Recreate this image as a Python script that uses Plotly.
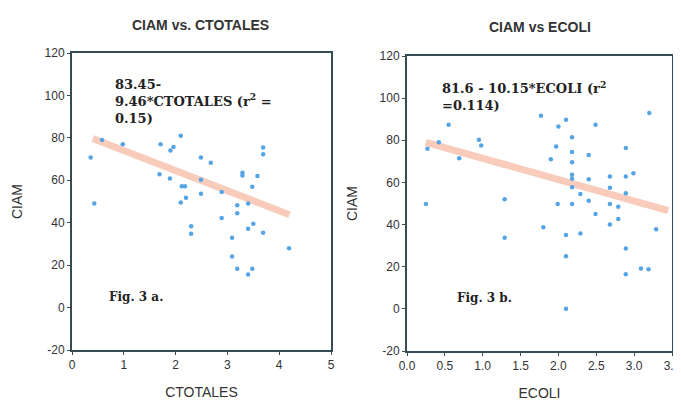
import plotly.graph_objects as go

# ---- data: left panel (CIAM vs CTOTALES)
ctot_x = [0.36, 0.43, 0.58, 0.98, 1.69, 1.71, 1.89, 1.90, 1.96, 2.10, 2.10, 2.12, 2.18, 2.20,
          2.30, 2.30, 2.49, 2.49, 2.49, 2.68, 2.89, 2.89, 3.09, 3.09, 3.19, 3.19, 3.19,
          3.29, 3.29, 3.40, 3.40, 3.40, 3.48, 3.48, 3.50, 3.58, 3.69, 3.69, 3.69, 4.19]
ctot_y = [70.7, 49.0, 79.0, 77.0, 62.8, 77.0, 60.8, 74.0, 75.7, 81.0, 49.5, 57.2, 57.2, 51.8,
          38.3, 34.8, 70.7, 60.3, 53.7, 68.3, 54.5, 42.2, 32.9, 24.1, 48.2, 44.5, 18.3,
          63.6, 62.3, 49.0, 37.2, 15.6, 57.0, 18.3, 39.5, 62.0, 75.4, 72.3, 35.3, 28.0]

# ---- data: right panel (CIAM vs ECOLI)
ecoli_x = [0.25, 0.27, 0.42, 0.55, 0.69, 0.95, 0.98, 1.29, 1.29, 1.77, 1.80, 1.90, 1.97, 1.99,
           2.00, 2.10, 2.10, 2.10, 2.10, 2.18, 2.18, 2.18, 2.18, 2.18, 2.18, 2.18, 2.29, 2.29,
           2.40, 2.40, 2.40, 2.49, 2.49, 2.68, 2.68, 2.68, 2.68, 2.79, 2.79, 2.89, 2.89, 2.89,
           2.89, 2.89, 2.99, 3.09, 3.19, 3.20, 3.29]
ecoli_y = [49.8, 76.0, 79.1, 87.4, 71.5, 80.2, 77.5, 52.0, 33.7, 91.7, 38.7, 71.0, 77.0, 49.8,
           86.6, 89.8, 35.0, 25.0, 0.0, 81.5, 74.4, 69.6, 63.6, 61.7, 57.7, 49.8, 54.5, 35.8,
           73.0, 61.5, 51.3, 87.4, 45.0, 62.8, 57.5, 49.8, 40.0, 48.5, 42.6, 76.3, 62.8, 54.9,
           28.7, 16.4, 64.4, 19.1, 18.8, 93.0, 37.8]

# regression fits (from chart text)
fit_left = (83.45, -9.46)
fit_left_x = [0.4, 4.2]
fit_right = (81.6, -10.15)
fit_right_x = [0.25, 3.45]

x_ticks_left = [0, 1, 2, 3, 4, 5]
x_ticks_right = [0.0, 0.5, 1.0, 1.5, 2.0, 2.5, 3.0, 3.5]
x_labels_right = ["0.0", "0.5", "1.0", "1.5", "2.0", "2.5", "3.0", "3.5"]
y_ticks = [-20, 0, 20, 40, 60, 80, 100, 120]
y_labels = ["-20", "0", "20", "40", "60", "80", "100", "120"]

line_color = "rgba(242,160,130,0.55)"
pt_color = "rgb(85,165,230)"
frame_color = "rgb(55,75,85)"

fig = go.Figure()

def fit_y(fit, xs):
    return [fit[0] + fit[1] * x for x in xs]

fig.add_trace(go.Scatter(x=fit_left_x, y=fit_y(fit_left, fit_left_x), mode="lines",
                         line=dict(color=line_color, width=7), xaxis="x", yaxis="y",
                         showlegend=False, hoverinfo="skip"))
fig.add_trace(go.Scatter(x=ctot_x, y=ctot_y, mode="markers",
                         marker=dict(color=pt_color, size=4.5), xaxis="x", yaxis="y",
                         showlegend=False))
fig.add_trace(go.Scatter(x=fit_right_x, y=fit_y(fit_right, fit_right_x), mode="lines",
                         line=dict(color=line_color, width=7), xaxis="x2", yaxis="y2",
                         showlegend=False, hoverinfo="skip"))
fig.add_trace(go.Scatter(x=ecoli_x, y=ecoli_y, mode="markers",
                         marker=dict(color=pt_color, size=4.5), xaxis="x2", yaxis="y2",
                         showlegend=False))

tickfont = dict(family="Liberation Sans, Arial", size=12, color="#333")
titlefont = dict(family="Liberation Sans, Arial", size=14, color="#333")

axis_common = dict(showgrid=False, zeroline=False, showline=True, linecolor=frame_color,
                   linewidth=2, mirror=True, ticks="outside", ticklen=3, tickcolor=frame_color,
                   tickfont=tickfont, automargin=False)

W, H = 681, 403
# pixel boxes of the two plot areas (page has an 8px body offset)
OFF = 8
left_px = (72 - OFF, 331 - OFF, 53 - OFF, 350 - OFF)
right_px = (407 - OFF, 672 - OFF, 56 - OFF, 351 - OFF)

def xdom(b):
    return [b[0] / W, b[1] / W]

def ydom(b):
    return [(H - b[3]) / H, (H - b[2]) / H]

fig.update_layout(
    width=W, height=H,
    margin=dict(l=0, r=0, t=0, b=0),
    paper_bgcolor="white", plot_bgcolor="white",
    xaxis=dict(domain=xdom(left_px), range=[0, 5], tickvals=x_ticks_left,
               ticktext=[str(v) for v in x_ticks_left],
               title=dict(text="CTOTALES", font=titlefont, standoff=16), anchor="y", **axis_common),
    yaxis=dict(domain=ydom(left_px), range=[-20, 120], tickvals=y_ticks, ticktext=y_labels,
               title=dict(text="CIAM", font=titlefont, standoff=19), anchor="x", **axis_common),
    xaxis2=dict(domain=xdom(right_px), range=[0, 3.5], tickvals=x_ticks_right,
                ticktext=x_labels_right,
                title=dict(text="ECOLI", font=titlefont, standoff=16), anchor="y2", **axis_common),
    yaxis2=dict(domain=ydom(right_px), range=[-20, 120], tickvals=y_ticks, ticktext=y_labels,
                title=dict(text="CIAM", font=titlefont, standoff=19), anchor="x2", **axis_common),
)

serif = dict(family="DejaVu Serif", size=13, color="#222")
title_font = dict(family="Liberation Sans, Arial", size=14, color="#333")
annots = [
    dict(text="<b>CIAM vs. CTOTALES</b>", x=(200 - OFF) / W, y=1 - (25 - OFF) / H,
         xref="paper", yref="paper", xanchor="center", yanchor="middle",
         showarrow=False, font=title_font),
    dict(text="<b>CIAM vs ECOLI</b>", x=(540 - OFF) / W, y=1 - (27 - OFF) / H,
         xref="paper", yref="paper", xanchor="center", yanchor="middle",
         showarrow=False, font=title_font),
    dict(text="<b>83.45-<br>9.46*CTOTALES (r<sup>2</sup> =<br>0.15)</b>", x=0.8, y=109.5,
         xref="x", yref="y", xanchor="left", yanchor="top", align="left",
         showarrow=False, font=serif),
    dict(text="<b>Fig. 3 a.</b>", x=0.68, y=5, xref="x", yref="y", xanchor="left",
         yanchor="middle", showarrow=False, font=dict(serif, size=12)),
    dict(text="<b>81.6 - 10.15*ECOLI&nbsp;(r<sup>2</sup><br>=0.114)</b>", x=0.44, y=110,
         xref="x2", yref="y2", xanchor="left", yanchor="top", align="left",
         showarrow=False, font=serif),
    dict(text="<b>Fig. 3 b.</b>", x=0.63, y=5, xref="x2", yref="y2", xanchor="left",
         yanchor="middle", showarrow=False, font=dict(serif, size=12)),
]
fig.update_layout(annotations=annots)

fig.write_html("out.html")
